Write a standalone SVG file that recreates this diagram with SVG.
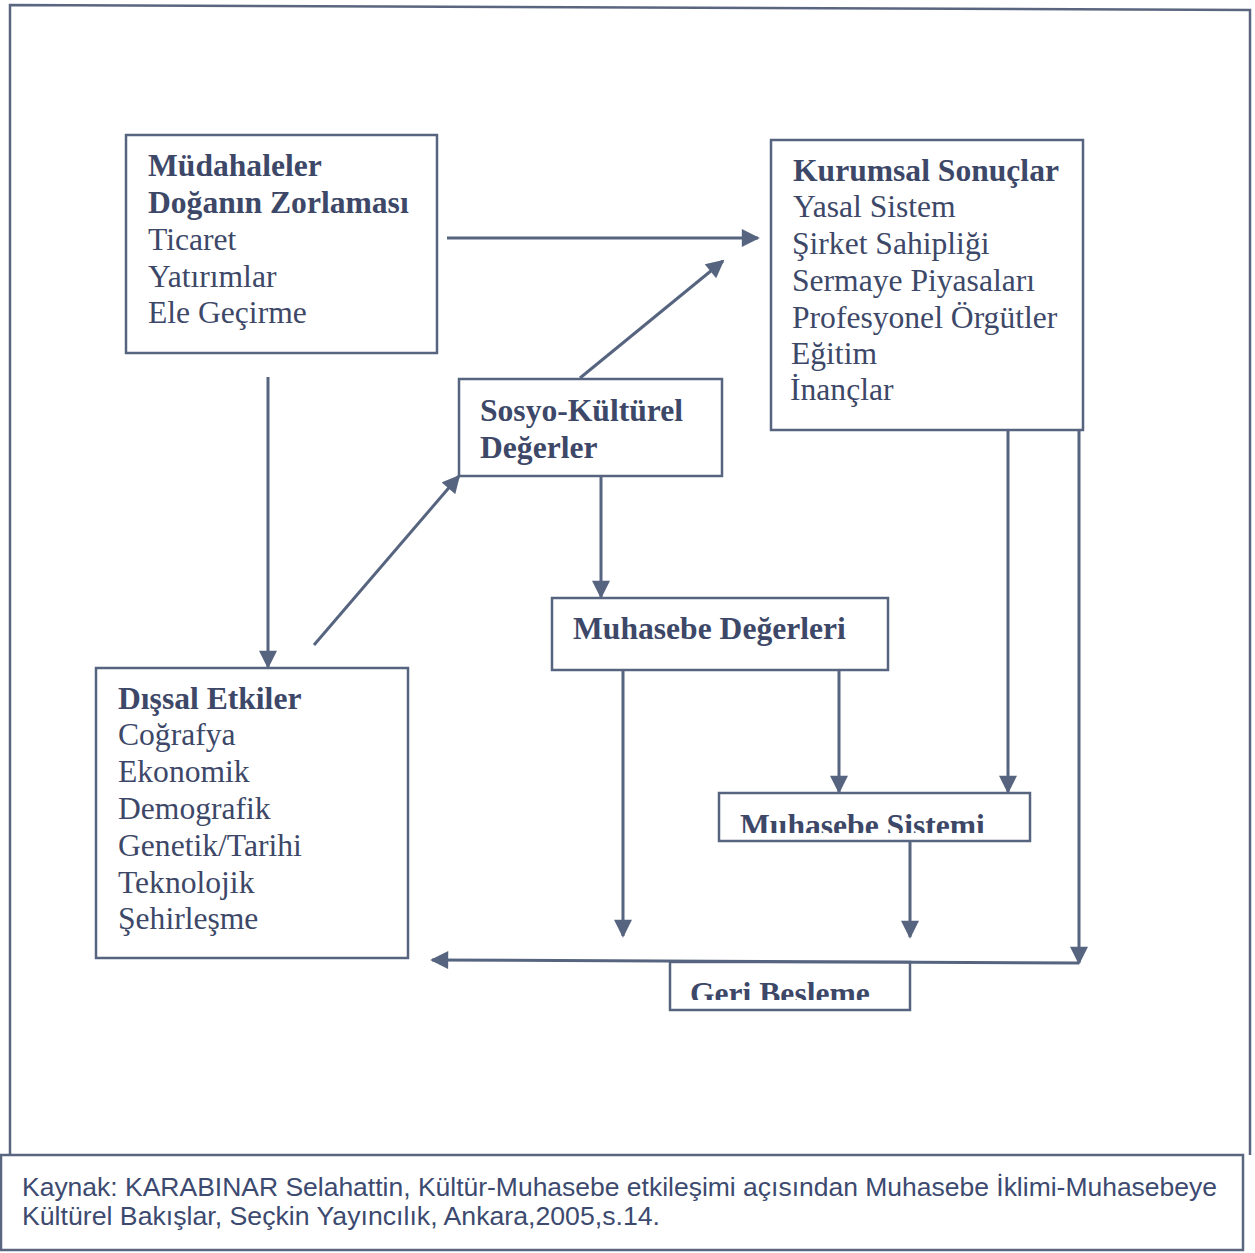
<svg xmlns="http://www.w3.org/2000/svg" width="1255" height="1253" viewBox="0 0 1255 1253">
<style>
.box{fill:none;stroke:#56647f;stroke-width:2.5}
.frame{fill:none;stroke:#5a6680;stroke-width:2.5}
.ln{fill:none;stroke:#56647f;stroke-width:3}
.t{font-family:"Liberation Serif","Times New Roman",serif;font-size:31.6px;fill:#3d4868}
.b{font-weight:bold}
.cap{font-family:"Liberation Sans",Arial,sans-serif;font-size:26px;fill:#3d4a70}
</style>
<defs>
<marker id="ah" viewBox="0 0 10 10" refX="9" refY="5" markerWidth="6.5" markerHeight="6" markerUnits="strokeWidth" orient="auto">
<path d="M0,0 L10,5 L0,10 z" fill="#56647f"/>
</marker>
<clipPath id="c1"><rect x="719" y="793" width="312" height="40"/></clipPath>
<clipPath id="c2"><rect x="670" y="962" width="240" height="38"/></clipPath>
</defs>
<rect width="1255" height="1253" fill="#ffffff"/>
<g id="frame">
<polyline class="frame" points="10,1155 10,5 1250,10 1250,1155"/>
<rect class="frame" x="1" y="1155" width="1242" height="95"/>
</g>
<g id="connectors">
<line class="ln" x1="447" y1="238" x2="758" y2="238" marker-end="url(#ah)"/>
<line class="ln" x1="580" y1="378" x2="723" y2="261" marker-end="url(#ah)"/>
<line class="ln" x1="268" y1="377" x2="268" y2="667" marker-end="url(#ah)"/>
<line class="ln" x1="314" y1="645" x2="459" y2="476" marker-end="url(#ah)"/>
<line class="ln" x1="601" y1="476" x2="601" y2="597" marker-end="url(#ah)"/>
<line class="ln" x1="623" y1="670" x2="623" y2="936" marker-end="url(#ah)"/>
<line class="ln" x1="839" y1="671" x2="839" y2="792" marker-end="url(#ah)"/>
<line class="ln" x1="1008" y1="430" x2="1008" y2="792" marker-end="url(#ah)"/>
<line class="ln" x1="910" y1="841" x2="910" y2="937" marker-end="url(#ah)"/>
<line class="ln" x1="1079" y1="430" x2="1079" y2="963" marker-end="url(#ah)"/>
<line class="ln" x1="1079" y1="963" x2="432" y2="960" marker-end="url(#ah)"/>
</g>
<g id="mudahaleler">
<rect class="box" x="126" y="135" width="311" height="218"/>
<text class="t b" x="148" y="176">Müdahaleler</text>
<text class="t b" x="148" y="213">Doğanın Zorlaması</text>
<text class="t" x="148" y="250">Ticaret</text>
<text class="t" x="148" y="287">Yatırımlar</text>
<text class="t" x="148" y="323">Ele Geçirme</text>
</g>
<g id="kurumsal">
<rect class="box" x="771" y="140" width="312" height="290"/>
<text class="t b" x="793" y="181">Kurumsal Sonuçlar</text>
<text class="t" x="793" y="217">Yasal Sistem</text>
<text class="t" x="792" y="254">Şirket Sahipliği</text>
<text class="t" x="792" y="291">Sermaye Piyasaları</text>
<text class="t" x="792" y="328">Profesyonel Örgütler</text>
<text class="t" x="791" y="364">Eğitim</text>
<text class="t" x="790" y="400">İnançlar</text>
</g>
<g id="sosyo">
<rect class="box" x="459" y="379" width="263" height="97"/>
<text class="t b" x="480" y="421">Sosyo-Kültürel</text>
<text class="t b" x="480" y="458">Değerler</text>
</g>
<g id="muhasebe-degerleri">
<rect class="box" x="552" y="598" width="336" height="72"/>
<text class="t b" x="573" y="639">Muhasebe Değerleri</text>
</g>
<g id="muhasebe-sistemi">
<rect class="box" x="719" y="793" width="311" height="48"/>
<text class="t b" x="740" y="836" clip-path="url(#c1)">Muhasebe Sistemi</text>
</g>
<g id="dissal">
<rect class="box" x="96" y="668" width="312" height="290"/>
<text class="t b" x="118" y="709">Dışsal Etkiler</text>
<text class="t" x="118" y="745">Coğrafya</text>
<text class="t" x="118" y="782">Ekonomik</text>
<text class="t" x="118" y="819">Demografik</text>
<text class="t" x="118" y="856">Genetik/Tarihi</text>
<text class="t" x="118" y="893">Teknolojik</text>
<text class="t" x="118" y="929">Şehirleşme</text>
</g>
<g id="geri-besleme">
<rect class="box" x="670" y="962" width="240" height="48"/>
<text class="t b" x="690" y="1004" clip-path="url(#c2)">Geri Besleme</text>
</g>
<g id="caption">
<text class="cap" x="22" y="1196" textLength="1195" lengthAdjust="spacingAndGlyphs">Kaynak: KARABINAR Selahattin, Kültür-Muhasebe etkileşimi açısından Muhasebe İklimi-Muhasebeye</text>
<text class="cap" x="22" y="1225" textLength="638" lengthAdjust="spacingAndGlyphs">Kültürel Bakışlar, Seçkin Yayıncılık, Ankara,2005,s.14.</text>
</g>
</svg>
